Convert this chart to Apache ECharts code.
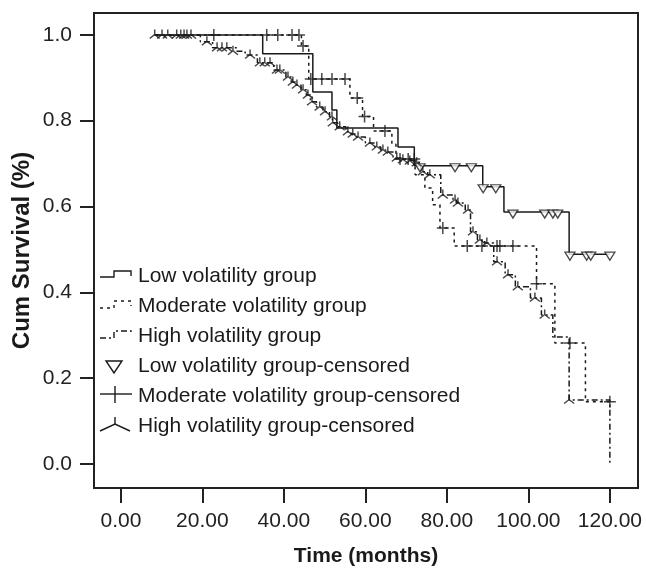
<!DOCTYPE html>
<html>
<head>
<meta charset="utf-8">
<script src="https://cdn.jsdelivr.net/npm/echarts@6/dist/echarts.min.js"></script>
<style>html,body{margin:0;padding:0;background:#fff;}#c{width:646px;height:572px;}</style>
</head>
<body>
<div id="c"></div>
<script>
// ---- data ----
const xTicks = [0, 20, 40, 60, 80, 100, 120];
const yTicks = [0, 0.2, 0.4, 0.6, 0.8, 1.0];
const seriesNames = ['Low volatility group', 'Moderate volatility group', 'High volatility group',
  'Low volatility group-censored', 'Moderate volatility group-censored', 'High volatility group-censored'];

// Kaplan-Meier steps: time at which the survival becomes the given value
const lowTime = [8.3, 34.8, 47.1, 51.8, 53.0, 68.0, 72.0, 88.8, 94.0, 110.0, 120.0];
const lowSurv = [1.0, 0.956, 0.867, 0.825, 0.783, 0.739, 0.695, 0.646, 0.587, 0.489, 0.489];

const modTime = [8.3, 44.3, 46.1, 56.2, 59.3, 62.0, 66.5, 67.5, 72.2, 74.6, 76.5, 78.3, 81.8, 102.0, 106.5, 114.0, 120.0];
const modSurv = [1.0, 0.974, 0.897, 0.853, 0.810, 0.776, 0.745, 0.711, 0.674, 0.643, 0.604, 0.550, 0.508, 0.420, 0.282, 0.145, 0.145];

const highTime = [8.3, 19.5, 22.5, 28.5, 30.5, 33.5, 37.5, 40.5, 41.8, 42.8, 44.2, 45.5, 46.5, 48.0, 49.6, 51.2, 51.9, 53.2, 55.2, 56.5, 57.8, 60.0, 62.3, 63.8, 65.0, 66.8, 68.8, 70.5, 72.0, 73.6, 75.3, 78.5, 81.5, 82.3, 84.5, 85.8, 87.5, 89.3, 91.5, 94.3, 96.8, 100.5, 103.2, 106.0, 110.0, 120.0];
const highSurv = [1.0, 0.984, 0.970, 0.962, 0.953, 0.935, 0.918, 0.902, 0.890, 0.883, 0.872, 0.860, 0.844, 0.832, 0.821, 0.809, 0.795, 0.786, 0.774, 0.769, 0.762, 0.748, 0.739, 0.732, 0.727, 0.713, 0.709, 0.706, 0.702, 0.681, 0.674, 0.627, 0.615, 0.608, 0.592, 0.541, 0.522, 0.515, 0.471, 0.441, 0.413, 0.387, 0.347, 0.296, 0.149, 0.0];

// censored observations
const lowCensTime = [73.4, 82.0, 86.0, 88.9, 92.0, 96.2, 104.0, 106.0, 107.2, 110.2, 114.3, 115.3, 120.0];
const lowCensSurv = [0.695, 0.695, 0.695, 0.646, 0.646, 0.587, 0.587, 0.587, 0.587, 0.489, 0.489, 0.489, 0.489];

const modCensTime = [22.8, 35.8, 38.5, 42.0, 43.7, 44.7, 46.6, 49.3, 51.8, 55.0, 58.0, 59.8, 64.8, 68.5, 70.5, 72.0, 79.0, 85.0, 88.6, 92.3, 93.0, 96.2, 102.0, 110.2, 120.0];
const modCensSurv = [1.0, 1.0, 1.0, 1.0, 1.0, 0.974, 0.897, 0.897, 0.897, 0.897, 0.853, 0.810, 0.776, 0.711, 0.711, 0.711, 0.550, 0.508, 0.508, 0.508, 0.508, 0.508, 0.420, 0.282, 0.145];

const highCensTime = [8.3, 10.1, 11.5, 13.7, 14.7, 15.5, 16.2, 17.2, 21.1, 23.6, 24.8, 26.0, 27.5, 31.7, 34.1, 35.3, 36.6, 38.3, 39.0, 41.0, 42.2, 43.2, 44.7, 45.9, 46.9, 48.8, 50.1, 51.8, 52.0, 53.7, 55.7, 56.9, 58.2, 61.1, 62.8, 64.3, 65.5, 67.7, 69.2, 70.9, 72.6, 74.1, 75.8, 79.0, 82.0, 82.7, 85.2, 86.4, 88.1, 89.8, 92.3, 95.0, 97.4, 101.6, 104.0, 110.0];
const highCensSurv = [1.0, 1.0, 1.0, 1.0, 1.0, 1.0, 1.0, 1.0, 0.984, 0.970, 0.970, 0.970, 0.962, 0.953, 0.935, 0.935, 0.935, 0.918, 0.918, 0.902, 0.890, 0.883, 0.872, 0.860, 0.844, 0.832, 0.821, 0.809, 0.795, 0.786, 0.774, 0.769, 0.762, 0.748, 0.739, 0.732, 0.727, 0.713, 0.709, 0.706, 0.702, 0.681, 0.674, 0.627, 0.615, 0.608, 0.592, 0.541, 0.522, 0.515, 0.471, 0.441, 0.413, 0.387, 0.347, 0.149];

// ---- chart ----
const FONT = "'Liberation Sans', Arial, sans-serif";
const INK = '#1a1a1a';
const zip = (a, b) => a.map((v, i) => [v, b[i]]);

const chart = echarts.init(document.getElementById('c'), null, {renderer: 'canvas'});

const lineBase = {type: 'line', step: 'end', showSymbol: false, symbol: 'none', silent: true, animation: false};
const censBase = {type: 'scatter', silent: true, animation: false, z: 5};

const legendRows = [275, 305, 335, 365, 395, 425];
const legendText = seriesNames.map((n, i) => ({
  type: 'text', left: 138, top: legendRows[i] - 9,
  style: {text: n, font: '21px ' + FONT, fill: INK}
}));
const strokeStyle = (dash) => ({stroke: INK, lineWidth: 1.4, fill: null, lineDash: dash || null});
const legendSymbols = [
  {type: 'polyline', shape: {points: [[100, 277], [114, 277], [114, 271], [131, 271], [131, 276]]}, style: strokeStyle()},
  {type: 'polyline', shape: {points: [[100, 308], [114, 308], [114, 301], [131, 301], [131, 306]]}, style: strokeStyle([3, 4])},
  {type: 'polyline', shape: {points: [[100, 338], [114, 338], [114, 331], [131, 331], [131, 335]]}, style: strokeStyle([6, 3, 2, 3])},
  {type: 'polygon', shape: {points: [[106, 361], [122, 361], [114, 373]]}, style: strokeStyle()},
  {type: 'polyline', shape: {points: [[100, 394], [132, 394]]}, style: strokeStyle()},
  {type: 'polyline', shape: {points: [[115, 386], [115, 403]]}, style: strokeStyle()},
  {type: 'polyline', shape: {points: [[115, 417], [115, 424]]}, style: strokeStyle()},
  {type: 'polyline', shape: {points: [[100, 431], [115, 424], [130, 431]]}, style: strokeStyle()}
];

chart.setOption({
  animation: false,
  backgroundColor: '#fff',
  grid: {left: 94, top: 13, width: 544, height: 475, show: true, borderColor: '#222', borderWidth: 2, backgroundColor: '#fff'},
  xAxis: {
    type: 'value', min: -6.6, max: 126.9,
    name: 'Time (months)', nameLocation: 'middle', nameGap: 58,
    nameTextStyle: {fontFamily: FONT, fontSize: 21, fontWeight: 'bold', color: INK},
    axisLine: {show: false, onZero: false},
    splitLine: {show: false},
    axisTick: {show: true, customValues: xTicks, length: 15, lineStyle: {color: '#222', width: 2}},
    axisLabel: {customValues: xTicks, formatter: v => v.toFixed(2), fontFamily: FONT, fontSize: 21, color: '#222', margin: 23}
  },
  yAxis: {
    type: 'value', min: -0.056, max: 1.051,
    name: 'Cum Survival (%)', nameLocation: 'middle', nameGap: 60, nameMoveOverlap: false,
    nameTextStyle: {fontFamily: FONT, fontSize: 24, fontWeight: 'bold', color: INK},
    axisLine: {show: false, onZero: false},
    splitLine: {show: false},
    axisTick: {show: true, customValues: yTicks, length: 14, lineStyle: {color: '#222', width: 2}},
    axisLabel: {customValues: yTicks, formatter: v => v.toFixed(1), fontFamily: FONT, fontSize: 21, color: '#222', margin: 22}
  },
  series: [
    Object.assign({}, lineBase, {name: seriesNames[0], data: zip(lowTime, lowSurv), lineStyle: {color: INK, width: 1.5}}),
    Object.assign({}, lineBase, {name: seriesNames[1], data: zip(modTime, modSurv), lineStyle: {color: INK, width: 1.5, type: [3, 4]}}),
    Object.assign({}, lineBase, {name: seriesNames[2], data: zip(highTime, highSurv), lineStyle: {color: INK, width: 1.5, type: [6, 3, 2, 3]}}),
    Object.assign({}, censBase, {name: seriesNames[3], data: zip(lowCensTime, lowCensSurv), symbol: 'triangle', symbolRotate: 180, symbolSize: [10, 8], symbolOffset: [0, 2],
      itemStyle: {color: '#fff', borderColor: INK, borderWidth: 1.3}}),
    Object.assign({}, censBase, {name: seriesNames[4], data: zip(modCensTime, modCensSurv), symbol: 'path://M5,0L5,10M0,5L10,5', symbolSize: 12,
      itemStyle: {color: 'none', borderColor: INK, borderWidth: 1.5}}),
    Object.assign({}, censBase, {name: seriesNames[5], data: zip(highCensTime, highCensSurv), symbol: 'path://M5,0L5,5M0,9L5,5L10,9', symbolSize: [10, 9], symbolOffset: [0, -1],
      itemStyle: {color: 'none', borderColor: INK, borderWidth: 1.4}})
  ],
  graphic: legendSymbols.concat(legendText)
});
</script>
</body>
</html>
